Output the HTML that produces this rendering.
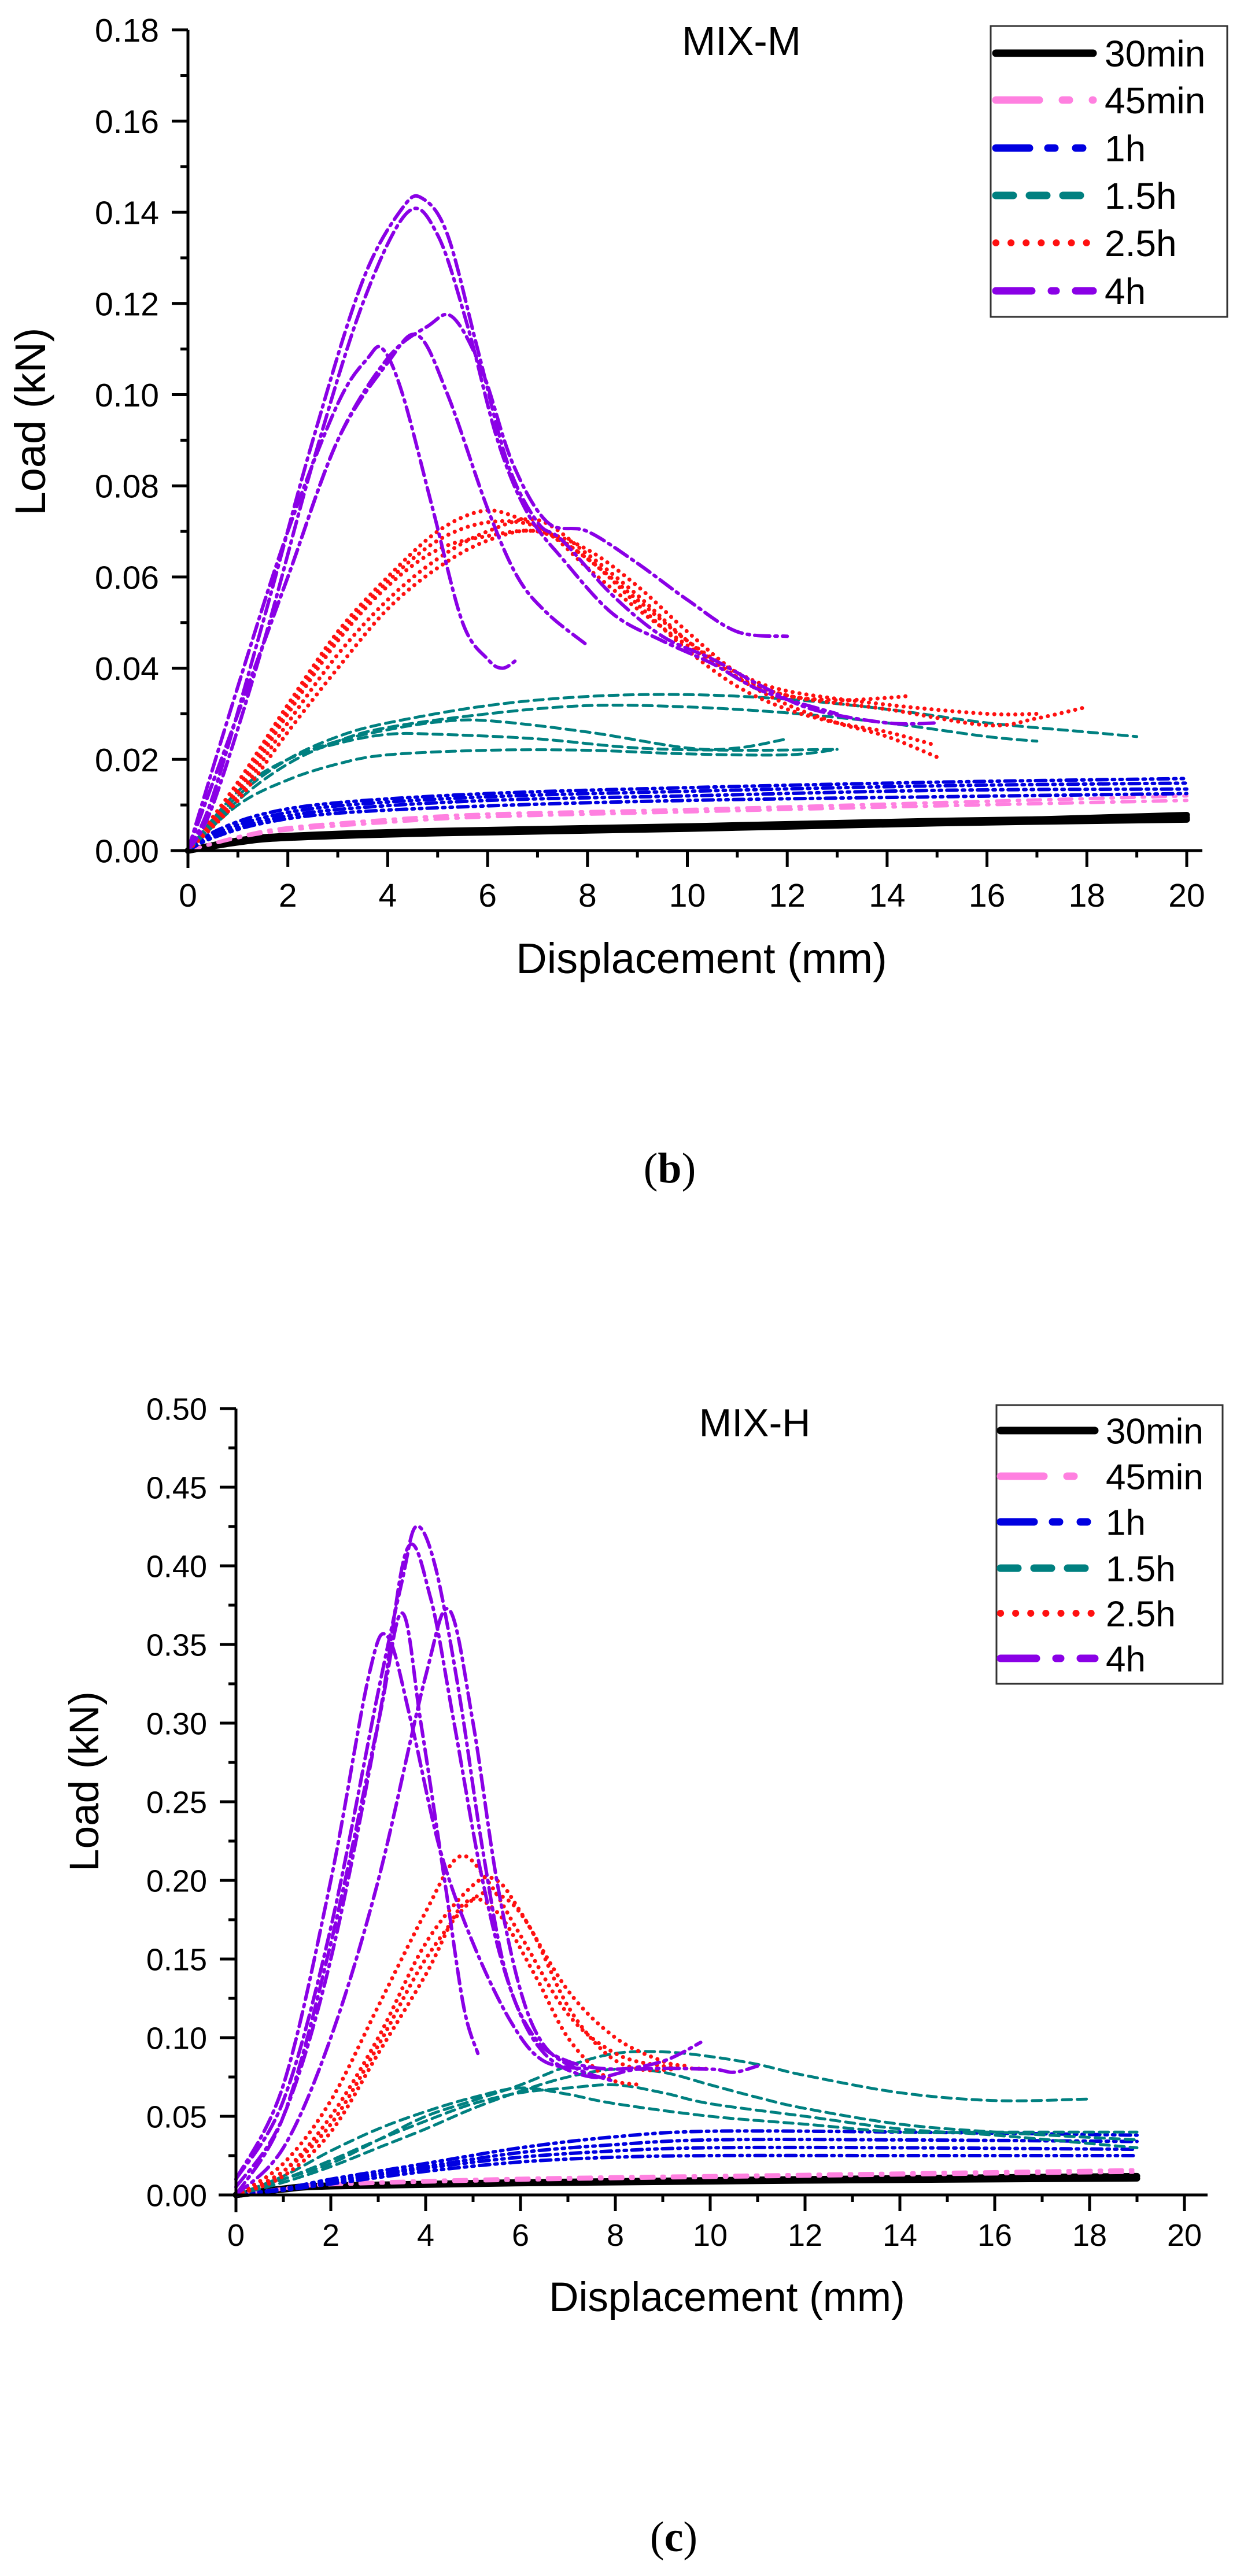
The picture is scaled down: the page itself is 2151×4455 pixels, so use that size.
<!DOCTYPE html>
<html><head><meta charset="utf-8">
<style>
html,body{margin:0;padding:0;background:#fff;}
svg{display:block;}
text{font-family:"Liberation Sans",Arial,sans-serif;fill:#000;}
</style></head>
<body>
<svg id="s" width="2151" height="4455" viewBox="0 0 2151 4455" xmlns="http://www.w3.org/2000/svg">
<rect width="2151" height="4455" fill="#fff"/>
<g id="g1"></g>
<g id="g2"></g>
<text x="1158" y="2045" font-size="74" text-anchor="middle" style="font-family:'Liberation Serif',serif">(<tspan font-weight="bold">b</tspan>)</text>
<text x="1165" y="4412" font-size="74" text-anchor="middle" style="font-family:'Liberation Serif',serif">(<tspan font-weight="bold">c</tspan>)</text>
</svg>
<script>
var NS="http://www.w3.org/2000/svg";
function el(p,tag,attrs,txt){var e=document.createElementNS(NS,tag);for(var k in attrs)e.setAttribute(k,attrs[k]);if(txt!==undefined)e.textContent=txt;p.appendChild(e);return e;}
function crPath(pts){
 var d="M"+pts[0][0].toFixed(1)+","+pts[0][1].toFixed(1);
 for(var i=0;i<pts.length-1;i++){
  var p0=pts[i-1]||pts[i],p1=pts[i],p2=pts[i+1],p3=pts[i+2]||p2;
  var c1x=p1[0]+(p2[0]-p0[0])/6,c1y=p1[1]+(p2[1]-p0[1])/6;
  var c2x=p2[0]-(p3[0]-p1[0])/6,c2y=p2[1]-(p3[1]-p1[1])/6;
  d+=" C"+c1x.toFixed(1)+","+c1y.toFixed(1)+" "+c2x.toFixed(1)+","+c2y.toFixed(1)+" "+p2[0].toFixed(1)+","+p2[1].toFixed(1);
 }
 return d;
}
var ST={
 k:{c:"#000",w:11,da:"none"},
 p:{c:"#ff80e0",w:6,da:"22 14 4 14"},
 b:{c:"#0000e0",w:6,da:"18 9 4 9 4 9"},
 t:{c:"#008080",w:5,da:"16 10"},
 r:{c:"#ff1010",w:7,da:"0.1 12"},
 v:{c:"#8a00e6",w:6,da:"26 9 4 9"}
};
function chart(g,cfg){
 var X=function(x){return cfg.x0+cfg.sx*x;},Y=function(y){return cfg.y0-cfg.sy*y;};
 cfg.series.forEach(function(s){
  var st=ST[s[0]];
  s[1].forEach(function(c){
   var pts=c.map(function(p){return [X(p[0]),Y(p[1])];});
   el(g,"path",{d:crPath(pts),fill:"none",stroke:st.c,"stroke-width":st.w,"stroke-dasharray":st.da,"stroke-linecap":"round","stroke-linejoin":"round"});
  });
 });
 var top=Y(cfg.ymax);
 el(g,"line",{x1:cfg.x0,y1:top,x2:cfg.x0,y2:cfg.y0+30,stroke:"#000","stroke-width":5});
 el(g,"line",{x1:cfg.x0-30,y1:cfg.y0,x2:cfg.xend,y2:cfg.y0,stroke:"#000","stroke-width":5});
 for(var i=0;i<=cfg.ny*2;i++){
  var v=i*cfg.ystep/2,yy=Y(v),major=i%2==0;
  el(g,"line",{x1:cfg.x0-(major?28:13),y1:yy,x2:cfg.x0,y2:yy,stroke:"#000","stroke-width":5});
  if(major)el(g,"text",{x:cfg.x0-50,y:yy+cfg.fs*0.36,"font-size":cfg.fs,"text-anchor":"end"},v.toFixed(2));
 }
 for(var j=0;j<=20;j++){
  var xx=X(j),mj=j%2==0;
  el(g,"line",{x1:xx,y1:cfg.y0,x2:xx,y2:cfg.y0+(mj?28:12),stroke:"#000","stroke-width":5});
  if(mj)el(g,"text",{x:xx,y:cfg.xly,"font-size":cfg.fs,"text-anchor":"middle"},String(j));
 }
 el(g,"text",{x:cfg.xlx,y:cfg.xlY,"font-size":cfg.lfs,"text-anchor":"middle"},"Displacement (mm)");
 el(g,"text",{x:0,y:0,"font-size":cfg.lfs,"text-anchor":"middle",transform:"translate("+cfg.ylx+","+cfg.ylY+") rotate(-90)"},"Load (kN)");
 el(g,"text",{x:cfg.tx,y:cfg.ty,"font-size":cfg.tfs,"text-anchor":"middle"},cfg.title);
 var L=cfg.leg;
 el(g,"rect",{x:L.x,y:L.y,width:L.w,height:L.h,fill:"#fff",stroke:"#333","stroke-width":3});
 var names=["30min","45min","1h","1.5h","2.5h","4h"],keys=["k","p","b","t","r","v"];
 var ld={k:"none",p:"75 40 12 40",b:"58 32 12 36 12 40",t:"30 28",r:"0.1 26",v:"62 34 8 34 60 40"};
 for(var n=0;n<6;n++){
  var ry=L.rows[n],st=ST[keys[n]];
  el(g,"line",{x1:L.lx1,y1:ry,x2:L.lx2,y2:ry,stroke:st.c,"stroke-width":keys[n]=="r"?12:13,"stroke-dasharray":ld[keys[n]],"stroke-linecap":"round"});
  el(g,"text",{x:L.tx,y:ry+L.fs*0.36,"font-size":L.fs},names[n]);
 }
}
chart(document.getElementById("g1"),{
 x0:325,y0:1471,sx:86.35,sy:7885,ymax:0.18,ystep:0.02,ny:9,xend:2079,fs:57,xly:1568,
 xlx:1213,xlY:1683,lfs:74,ylx:78,ylY:729,tx:1282,ty:95,tfs:70,title:"MIX-M",
 leg:{x:1713,y:45,w:409,h:503,rows:[92,173,256,338,420,503],lx1:1722,lx2:1890,tx:1910,fs:64},
 series:[
 ["k",[
  [[0,0],[1,0.002],[2,0.003],[5,0.004],[10,0.005],[15,0.0062],[20,0.0078]],
  [[0,0],[1,0.0022],[2,0.0032],[5,0.0043],[10,0.0053],[15,0.0065],[20,0.0072]],
  [[0,0],[1,0.0018],[2,0.0028],[5,0.0038],[10,0.0048],[15,0.006],[20,0.0068]]]],
 ["p",[
  [[0,0],[1,0.003],[2,0.005],[4,0.0068],[6,0.008],[10,0.009],[15,0.0105],[20,0.012]],
  [[0,0],[1,0.0028],[2,0.0045],[4,0.0062],[6,0.0074],[10,0.0085],[15,0.0098],[20,0.011]]]],
 ["b",[
  [[0,0],[0.5,0.004],[1.5,0.008],[3,0.0105],[6,0.0125],[10,0.0138],[15,0.015],[20,0.0158]],
  [[0,0],[0.5,0.0035],[1.5,0.0072],[3,0.0098],[6,0.0118],[10,0.013],[15,0.0142],[20,0.0148]],
  [[0,0],[0.5,0.003],[1.5,0.0065],[3,0.009],[6,0.011],[10,0.012],[15,0.0132],[20,0.0135]],
  [[0,0],[0.5,0.0028],[1.5,0.006],[3,0.0082],[6,0.0098],[10,0.011],[15,0.0118],[20,0.0125]]]],
 ["t",[
  [[0,0],[1,0.012],[2,0.02],[3,0.025],[4,0.028],[6,0.0318],[8,0.0338],[10,0.0342],[12,0.0332],[14,0.031],[16,0.028],[18,0.026],[19,0.025]],
  [[0,0],[1,0.011],[2,0.019],[3,0.024],[4,0.027],[6,0.03],[8,0.0318],[10,0.0315],[12,0.0302],[14,0.028],[16,0.025],[17,0.024]],
  [[0,0],[1,0.013],[2,0.02],[3,0.024],[4,0.0265],[5,0.0282],[6,0.0285],[8,0.026],[10,0.0225],[11,0.0225],[12,0.0245]],
  [[0,0],[1,0.013],[2,0.02],[3,0.0235],[4,0.0255],[5,0.0255],[7,0.0245],[9,0.0225],[11,0.022],[13,0.0222]],
  [[0,0],[1,0.01],[2,0.0155],[3,0.019],[4,0.021],[6,0.022],[8,0.022],[10,0.0212],[12,0.021],[13,0.0222]]]],
 ["r",[
  [[0,0],[1,0.015],[2,0.032],[3,0.048],[4,0.06],[5,0.07],[5.9,0.0745],[6.6,0.073],[7.3,0.069],[8,0.062],[9,0.053],[10,0.045],[11,0.038],[12,0.034],[13,0.033],[14,0.0335],[14.5,0.034]],
  [[0,0],[1,0.012],[2,0.028],[3,0.043],[4,0.055],[5,0.064],[6,0.07],[7,0.0725],[8,0.065],[9,0.056],[10,0.046],[11,0.038],[12,0.032],[13,0.028],[14,0.025],[15,0.0205]],
  [[0,0],[1,0.011],[2,0.026],[3,0.04],[4,0.053],[5,0.062],[6,0.068],[7,0.07],[8,0.064],[9,0.054],[10,0.044],[11,0.036],[12,0.031],[13,0.028],[14,0.026],[15,0.023]],
  [[0,0],[1,0.013],[2,0.03],[3,0.046],[4,0.058],[5,0.066],[6,0.069],[7,0.07],[8,0.066],[9,0.058],[10,0.048],[11,0.039],[12,0.034],[14,0.031],[16,0.0275],[17,0.029],[18,0.0315]],
  [[0,0],[1,0.014],[2,0.031],[3,0.047],[4,0.059],[5,0.068],[6,0.072],[7,0.071],[8,0.064],[9,0.055],[10,0.046],[11,0.039],[12,0.035],[14,0.032],[16,0.03],[17,0.03]]]],
 ["v",[
  [[0,0],[0.5,0.012],[1.5,0.05],[2.5,0.09],[3.5,0.125],[4.3,0.141],[4.7,0.143],[5.2,0.135],[5.8,0.11],[6.4,0.085],[7,0.072],[7.5,0.068],[8.5,0.056],[9.5,0.047],[10.5,0.042],[11.5,0.036],[12.5,0.031],[14,0.028],[15,0.028]],
  [[0,0],[0.5,0.01],[1.5,0.045],[2.5,0.085],[3.5,0.12],[4.4,0.14],[5,0.135],[5.6,0.115],[6.2,0.09],[6.8,0.074],[7.5,0.064],[8.5,0.052],[9.5,0.046],[10.5,0.041],[11.5,0.035],[13,0.03]],
  [[0,0],[1,0.03],[2,0.06],[3,0.09],[4,0.108],[4.8,0.115],[5.3,0.117],[5.9,0.105],[6.5,0.085],[7.2,0.072],[8,0.07],[9,0.063],[10,0.055],[11,0.048],[12,0.047]],
  [[0,0],[1,0.03],[2,0.06],[3,0.09],[4,0.107],[4.6,0.113],[5.2,0.1],[6,0.075],[6.6,0.06],[7.2,0.052],[8,0.045]],
  [[0,0],[1,0.036],[2,0.07],[3,0.098],[3.6,0.108],[3.9,0.11],[4.3,0.1],[4.9,0.075],[5.5,0.05],[6,0.042],[6.3,0.04],[6.6,0.042]]]]
 ]
});
chart(document.getElementById("g2"),{
 x0:408,y0:3796,sx:82,sy:2720,ymax:0.5,ystep:0.05,ny:10,xend:2088,fs:54,xly:3884,
 xlx:1257,xlY:3997,lfs:71,ylx:170,ylY:3081,tx:1305,ty:2484,tfs:68,title:"MIX-H",
 leg:{x:1723,y:2430,w:391,h:482,rows:[2474,2553,2632,2712,2790,2868],lx1:1730,lx2:1893,tx:1912,fs:62},
 series:[
 ["k",[
  [[0,0],[1,0.004],[2,0.006],[6,0.008],[12,0.01],[19,0.012]],
  [[0,0],[1,0.0035],[2,0.0055],[6,0.0075],[12,0.0092],[19,0.0105]]]],
 ["p",[
  [[0,0],[1,0.004],[2,0.007],[6,0.0105],[12,0.013],[19,0.016]],
  [[0,0],[1,0.0038],[2,0.0065],[6,0.0095],[12,0.012],[19,0.0145]]]],
 ["b",[
  [[0,0],[1,0.004],[2,0.01],[4,0.02],[6,0.03],[8,0.037],[10,0.0405],[14,0.04],[19,0.038]],
  [[0,0],[1,0.004],[2,0.009],[4,0.018],[6,0.027],[8,0.032],[10,0.035],[14,0.035],[19,0.034]],
  [[0,0],[1,0.0035],[2,0.008],[4,0.017],[6,0.024],[8,0.028],[10,0.03],[14,0.03],[19,0.029]],
  [[0,0],[1,0.003],[2,0.007],[4,0.015],[6,0.021],[8,0.024],[10,0.025],[14,0.025],[19,0.025]]]],
 ["t",[
  [[0,0],[1,0.01],[2,0.02],[3,0.035],[4,0.05],[5,0.06],[6,0.07],[7,0.082],[8,0.09],[9,0.091],[10,0.088],[11,0.083],[12,0.076],[14,0.065],[16,0.06],[18,0.061]],
  [[0,0],[1,0.008],[2,0.018],[3,0.03],[4,0.042],[5,0.055],[6,0.066],[7,0.075],[8,0.08],[9,0.078],[10,0.07],[11,0.062],[12,0.055],[14,0.045],[16,0.04],[19,0.035]],
  [[0,0],[1,0.01],[2,0.022],[3,0.035],[4,0.047],[5,0.058],[6,0.065],[7,0.068],[8,0.07],[9,0.065],[10,0.058],[12,0.05],[14,0.042],[16,0.038],[19,0.03]],
  [[0,0],[1,0.012],[2,0.028],[3,0.042],[4,0.053],[5,0.062],[6,0.068],[7,0.064],[8,0.058],[10,0.05],[12,0.045],[14,0.04],[16,0.04],[19,0.04]]]],
 ["r",[
  [[0,0],[1,0.02],[2,0.06],[3,0.12],[4,0.18],[4.7,0.215],[5.3,0.2],[6,0.165],[7,0.115],[8,0.09],[9,0.082],[10,0.08]],
  [[0,0],[1,0.015],[2,0.05],[3,0.1],[4,0.16],[5,0.197],[5.5,0.2],[6,0.18],[7,0.13],[8,0.1],[9,0.085],[9.5,0.082]],
  [[0,0],[1,0.015],[2,0.045],[3,0.095],[4,0.15],[5,0.188],[5.6,0.19],[6.2,0.17],[7,0.12],[7.8,0.09],[8.5,0.08],[9.3,0.08]],
  [[0,0],[1,0.012],[2,0.04],[3,0.09],[4,0.14],[4.8,0.185],[5.5,0.18],[6.3,0.14],[7,0.1],[7.8,0.075],[8.5,0.07]]]],
 ["v",[
  [[0,0.01],[1,0.06],[2,0.17],[3,0.32],[3.5,0.39],[3.8,0.425],[4.2,0.4],[4.7,0.32],[5.2,0.22],[5.7,0.14],[6.3,0.1],[7,0.085],[8,0.08],[9,0.085],[9.8,0.097]],
  [[0,0.005],[1,0.05],[2,0.15],[3,0.3],[3.6,0.41],[4.1,0.38],[4.6,0.3],[5.2,0.2],[5.8,0.13],[6.5,0.09],[7.5,0.075],[8.5,0.08],[10,0.08],[10.5,0.078],[11,0.082]],
  [[0,0],[1,0.05],[2,0.16],[3,0.3],[3.5,0.37],[3.9,0.3],[4.4,0.2],[4.8,0.12],[5.1,0.09]],
  [[0,0],[1,0.03],[2,0.1],[3,0.2],[4,0.33],[4.5,0.372],[5,0.3],[5.5,0.2],[6,0.13],[6.5,0.095],[7.2,0.08],[8,0.072]],
  [[0,0.01],[1,0.07],[2,0.2],[2.8,0.33],[3.2,0.355],[3.7,0.3],[4.3,0.22],[5,0.16],[5.8,0.11],[6.5,0.085],[7.5,0.08]]]]
 ]
});
</script>
</body></html>
